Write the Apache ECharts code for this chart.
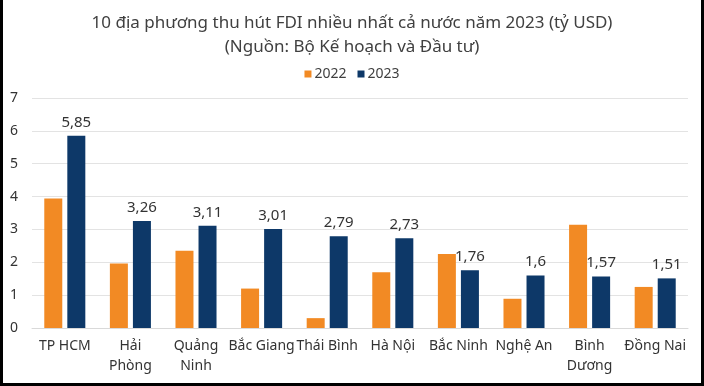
<!DOCTYPE html>
<html>
<head>
<meta charset="utf-8">
<script src="https://cdn.jsdelivr.net/npm/echarts@6/dist/echarts.min.js"></script>
<style>
html,body{margin:0;padding:0;background:#000;width:704px;height:386px;overflow:hidden;}
#frame{position:absolute;left:3px;top:0;width:698px;height:383px;background:#fff;}
#chart{width:698px;height:383px;}
</style>
</head>
<body>
<div id="frame"><div id="chart"></div></div>
<script>
const categories = ['TP HCM', 'Hải\nPhòng', 'Quảng\nNinh', 'Bắc Giang', 'Thái Bình', 'Hà Nội', 'Bắc Ninh', 'Nghệ An', 'Bình\nDương', 'Đồng Nai'];
const values2022 = [3.94, 1.96, 2.35, 1.2, 0.3, 1.7, 2.25, 0.89, 3.14, 1.25];
const values2023 = [5.85, 3.26, 3.11, 3.01, 2.79, 2.73, 1.76, 1.6, 1.57, 1.51];
const yTicks = [0, 1, 2, 3, 4, 5, 6, 7];

const chart = echarts.init(document.getElementById('chart'));
const font = 'Noto Sans';
chart.setOption({
  animation: false,
  textStyle: {fontFamily: font},
  title: {
    text: '10 địa phương thu hút FDI nhiều nhất cả nước năm 2023 (tỷ USD)\n(Nguồn: Bộ Kế hoạch và Đầu tư)',
    left: 'center',
    top: 6,
    textStyle: {fontFamily: font, fontSize: 17, fontWeight: 'normal', color: '#404040', lineHeight: 24}
  },
  legend: {
    top: 62,
    left: 'center',
    itemWidth: 7,
    itemHeight: 7,
    itemGap: 11,
    icon: 'rect',
    textStyle: {fontFamily: font, fontSize: 14, color: '#404040', padding: [0, 0, 0, -2]},
    data: ['2022', '2023']
  },
  grid: {left: 29, right: 13, top: 98, bottom: 55, containLabel: false},
  xAxis: {
    type: 'category',
    data: categories,
    axisLine: {show: true, lineStyle: {color: '#d9d9d9'}},
    axisTick: {show: false},
    axisLabel: {fontFamily: font, fontSize: 14, color: '#333', margin: 8, lineHeight: 20, interval: 0}
  },
  yAxis: {
    type: 'value',
    min: yTicks[0],
    max: yTicks[yTicks.length - 1],
    interval: 1,
    axisLine: {show: false},
    axisTick: {show: false},
    splitLine: {lineStyle: {color: '#e3e3e3'}},
    axisLabel: {fontFamily: font, fontSize: 14, color: '#333', margin: 14}
  },
  series: [
    {
      name: '2022', type: 'bar', data: values2022,
      barWidth: 18, barGap: '28%',
      itemStyle: {color: '#F28A24'}
    },
    {
      name: '2023', type: 'bar', data: values2023,
      barWidth: 18,
      itemStyle: {color: '#0D3868'},
      label: {
        show: true, position: 'top', distance: 6,
        fontFamily: font, fontSize: 15, color: '#333',
        formatter: p => String(p.value).replace('.', ',')
      }
    }
  ]
});
</script>
</body>
</html>
